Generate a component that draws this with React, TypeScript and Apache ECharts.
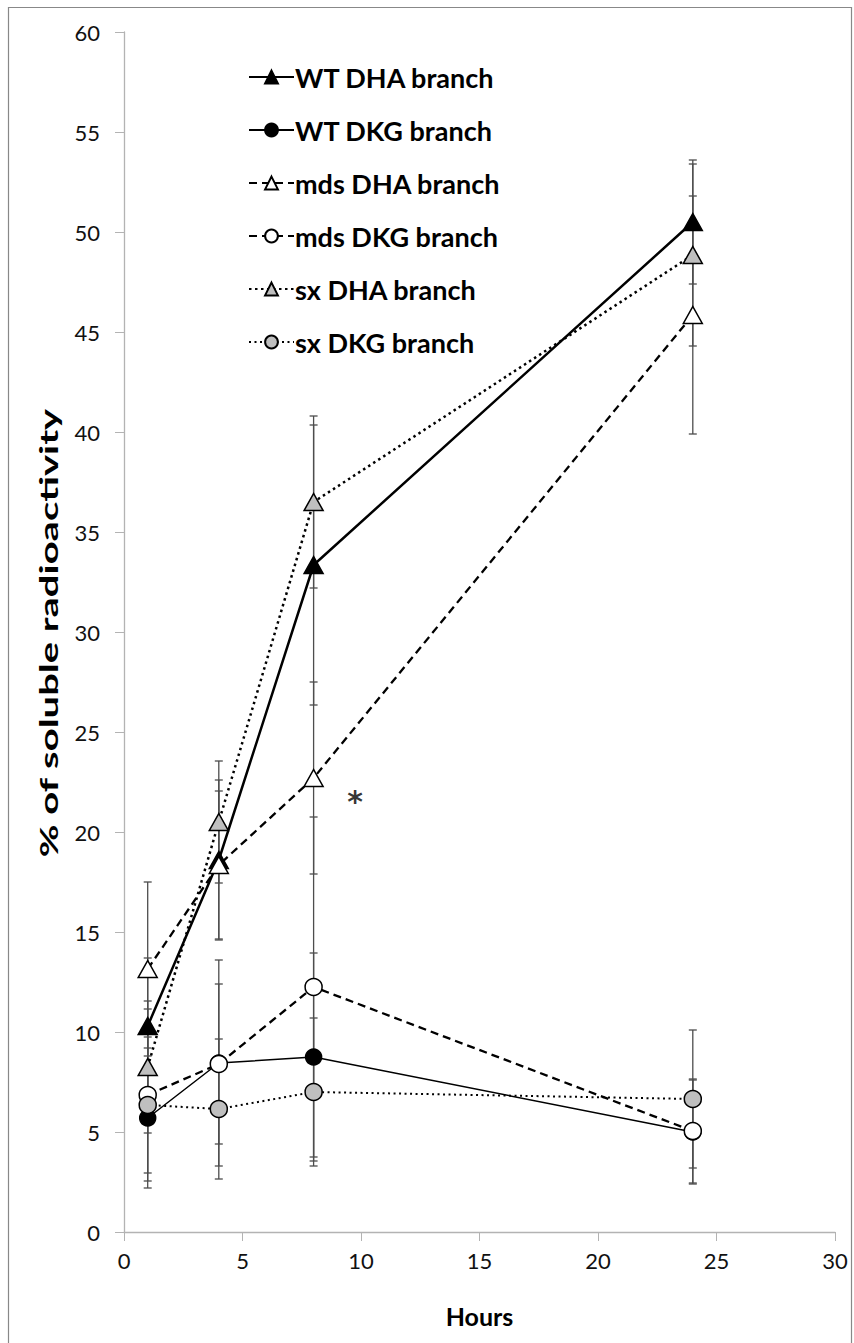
import React, { useEffect, useRef } from "react";
import * as echarts from "echarts";

const hours = [1, 4, 8, 24];
const seriesNames = [
  "WT DHA branch",
  "WT DKG branch",
  "mds DHA branch",
  "mds DKG branch",
  "sx DHA branch",
  "sx DKG branch",
];
const wtDHA = [10.3, 18.6, 33.35, 50.5];
const wtDHAErr = [3.4, 4.0, 7.0, 3.1];
const wtDKG = [5.7, 8.45, 8.75, 5.0];
const wtDKGErr = [3.5, 5.15, 5.2, 2.6];
const mdsDHA = [13.15, 18.35, 22.7, 45.85];
const mdsDHAErr = [4.35, 3.7, 4.8, 5.95];
const mdsDKG = [6.85, 8.4, 12.25, 5.05];
const mdsDKGErr = [4.3, 4.0, 8.5, 2.6];
const sxDHA = [8.25, 20.5, 36.5, 48.85];
const sxDHAErr = [3.3, 3.05, 4.3, 4.55];
const sxDKG = [6.35, 6.15, 7.0, 6.65];
const sxDKGErr = [3.4, 3.5, 3.7, 3.45];
const starLabel = "*";
const starPos = [9.75, 21.95];
const xTitle = "Hours";
const yTitle = "% of soluble radioactivity";

const FONT = "Lato, 'Open Sans', sans-serif";

export default function App() {
  const ref = useRef<HTMLDivElement>(null);
  useEffect(() => {
    if (!ref.current) return;
    const chart = echarts.init(ref.current, undefined, { renderer: "svg" });

    const values = [wtDHA, wtDKG, mdsDHA, mdsDKG, sxDHA, sxDKG];
    const errs = [wtDHAErr, wtDKGErr, mdsDHAErr, mdsDKGErr, sxDHAErr, sxDKGErr];
    const styles = [
      { line: "solid", lw: 2.5, sym: "triangle", size: [19, 17], fill: "#000" },
      { line: "solid", lw: 1.5, sym: "circle", size: 16, fill: "#000" },
      { line: [8, 5], lw: 2.3, sym: "triangle", size: [19, 17], fill: "#fff" },
      { line: [8, 5], lw: 2.3, sym: "circle", size: 17, fill: "#fff" },
      { line: [2.5, 3.5], lw: 2.5, sym: "triangle", size: [19, 17], fill: "#bfbfbf" },
      { line: [2, 3.5], lw: 2, sym: "circle", size: 17, fill: "#bfbfbf" },
    ];

    const errData: number[][] = [];
    values.forEach((vals, si) => {
      vals.forEach((v, i) => {
        errData.push([hours[i], v - errs[si][i], v + errs[si][i]]);
      });
    });

    const lineSeries = seriesNames.map((name, si) => ({
      name,
      type: "line",
      data: hours.map((h, i) => [h, values[si][i]]),
      symbol: styles[si].sym,
      symbolSize: styles[si].size,
      showAllSymbol: true,
      z: 3 + si,
      lineStyle: { color: "#000", width: styles[si].lw, type: styles[si].line },
      itemStyle: { color: styles[si].fill, borderColor: "#000", borderWidth: 1.5 },
      emphasis: { disabled: true },
    }));

    const errSeries = {
      type: "custom",
      name: "err",
      z: 2,
      data: errData,
      renderItem: (params: any, api: any) => {
        const x = api.value(0);
        const lo = api.coord([x, api.value(1)]);
        const hi = api.coord([x, api.value(2)]);
        const cw = 4;
        const st = { stroke: "#4d4d4d", lineWidth: 1.3 };
        return {
          type: "group",
          children: [
            { type: "line", shape: { x1: lo[0], y1: lo[1], x2: hi[0], y2: hi[1] }, style: st },
            { type: "line", shape: { x1: lo[0] - cw, y1: lo[1], x2: lo[0] + cw, y2: lo[1] }, style: st },
            { type: "line", shape: { x1: hi[0] - cw, y1: hi[1], x2: hi[0] + cw, y2: hi[1] }, style: st },
          ],
        };
      },
    };

    const starSeries = {
      type: "scatter",
      name: "star",
      data: [starPos],
      symbolSize: 0,
      z: 10,
      label: {
        show: true,
        formatter: starLabel,
        position: "inside",
        offset: [0, 8],
        fontFamily: "'DejaVu Sans', sans-serif",
        fontWeight: "bold",
        fontSize: 30,
        color: "#000",
      },
      emphasis: { disabled: true },
    };

    chart.setOption({
      animation: false,
      backgroundColor: "#fff",
      grid: { left: 124, right: 19, top: 32, bottom: 111 },
      legend: {
        data: seriesNames,
        orient: "vertical",
        left: 243,
        top: 58,
        itemWidth: 45,
        itemHeight: 16,
        itemGap: 25,
        textStyle: {
          fontFamily: FONT,
          fontWeight: "bold",
          fontSize: 27,
          lineHeight: 28,
          color: "#000",
          padding: [0, 0, 0, -4],
        },
        selectedMode: false,
      },
      xAxis: {
        type: "value",
        min: 0,
        max: 30,
        interval: 5,
        name: xTitle,
        nameLocation: "middle",
        nameGap: 71,
        nameTextStyle: { fontFamily: FONT, fontWeight: "bold", fontSize: 25, color: "#000" },
        axisLine: { lineStyle: { color: "#b3b3b3", width: 1.3 } },
        axisTick: { show: true, inside: false, length: 9, lineStyle: { color: "#b3b3b3" } },
        axisLabel: { fontFamily: FONT, fontSize: 22, color: "#111", margin: 17 },
        splitLine: { show: false },
      },
      yAxis: {
        type: "value",
        min: 0,
        max: 60,
        interval: 5,
        axisLine: { show: true, lineStyle: { color: "#b3b3b3", width: 1.3 } },
        axisTick: { show: true, inside: false, length: 9, lineStyle: { color: "#b3b3b3" } },
        axisLabel: { fontFamily: FONT, fontSize: 22, color: "#111", margin: 24 },
        splitLine: { show: false },
      },
      graphic: [
        {
          type: "rect",
          shape: { x: 8.5, y: 7.5, width: 843, height: 1345 },
          style: { fill: "none", stroke: "#888", lineWidth: 1.2 },
          silent: true,
        },
        {
          type: "text",
          x: 48,
          y: 633,
          rotation: Math.PI / 2,
          scaleX: 1.6,
          style: {
            text: yTitle,
            fontFamily: FONT,
            fontWeight: "bold",
            fontSize: 25,
            fill: "#000",
            align: "center",
            verticalAlign: "middle",
          },
          silent: true,
        },
      ],
      series: [errSeries, ...lineSeries, starSeries],
    });

    return () => chart.dispose();
  }, []);

  return (
    <div
      ref={ref}
      style={{ position: "absolute", left: 0, top: 0, width: 854, height: 1343 }}
    />
  );
}
